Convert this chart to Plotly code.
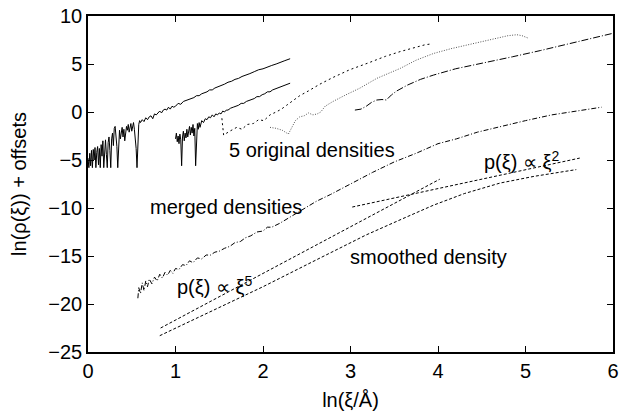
import plotly.graph_objects as go

# ---- data ----
c1x = [0.00,0.01,0.02,0.03,0.04,0.05,0.06,0.07,0.08,0.09,0.10,0.11,0.12,0.13,0.14,0.15,0.16,0.17,0.18,0.19,
       0.20,0.21,0.22,0.23,0.24,0.25,0.26,0.27,0.28,0.29,0.30,0.31,0.32,0.33,0.34,0.35,0.36,0.37,0.38,0.39,
       0.40,0.41,0.42,0.43,0.44,0.45,0.46,0.47,0.48,0.49,0.50,0.51,0.52,0.53,0.54,0.55,0.56,0.57,0.58,0.59,
       0.60,0.62,0.64,0.66,0.68,0.70,0.72,0.74,0.76,0.78,0.80,0.82,0.84,0.86,0.88,0.90,0.92,0.94,0.96,0.98,
       1.00,1.03,1.06,1.09,1.12,1.15,1.18,1.21,1.24,1.27,1.30,1.33,1.36,1.39,1.42,1.45,1.48,1.52,1.56,1.60,
       1.64,1.68,1.72,1.76,1.80,1.85,1.90,1.95,2.00,2.05,2.10,2.15,2.20,2.25,2.31]
c1y = [-4.8,-5.8,-4.3,-5.6,-4.0,-5.8,-3.9,-5.0,-3.7,-5.8,-4.2,-3.6,-5.5,-3.8,-5.8,-3.4,-4.6,-3.0,-5.8,-3.5,
       -2.9,-4.4,-5.8,-3.2,-2.6,-4.0,-5.8,-2.8,-2.2,-3.5,-1.7,-1.5,-2.3,-3.6,-5.8,-2.5,-1.9,-2.8,-2.0,-1.6,
       -2.6,-1.8,-3.0,-2.2,-1.5,-1.9,-1.3,-2.1,-1.6,-1.2,-2.0,-1.4,-1.1,-1.8,-2.6,-3.8,-5.8,-3.2,-1.3,-0.9,
       -1.1,-0.8,-1.0,-0.6,-0.8,-0.5,-0.4,-0.7,-0.2,-0.3,-0.1,0.1,-0.1,0.2,0.3,0.2,0.5,0.3,0.6,0.5,
       0.6,0.9,0.8,1.1,1.2,1.3,1.4,1.5,1.7,1.7,1.9,2.0,2.1,2.3,2.3,2.5,2.6,2.8,2.9,3.1,
       3.2,3.4,3.5,3.7,3.8,4.0,4.2,4.4,4.5,4.7,4.85,5.0,5.2,5.35,5.55]

c2x = [1.00,1.01,1.02,1.03,1.04,1.05,1.06,1.07,1.08,1.09,1.10,1.11,1.12,1.13,1.14,1.15,1.16,1.17,1.18,1.19,
       1.20,1.21,1.22,1.23,1.24,1.25,1.26,1.27,1.28,1.30,1.32,1.34,1.36,1.38,1.40,1.42,1.44,1.46,1.48,1.50,
       1.52,1.54,1.56,1.58,1.60,1.63,1.66,1.69,1.72,1.75,1.78,1.81,1.84,1.87,1.90,1.93,1.96,1.99,2.02,2.05,
       2.08,2.11,2.14,2.17,2.20,2.23,2.26,2.29,2.31]
c2y = [-2.8,-2.2,-3.1,-2.5,-3.3,-2.3,-2.9,-5.6,-2.6,-2.0,-3.0,-2.2,-2.7,-1.8,-2.6,-2.0,-1.5,-2.4,-1.6,-2.2,
       -1.3,-2.5,-1.7,-5.6,-1.9,-1.2,-1.8,-1.1,-1.6,-0.9,-1.1,-0.7,-0.8,-0.5,-0.6,-0.3,-0.5,-0.2,-0.3,-0.1,
       -0.2,0.1,0.0,0.2,0.2,0.4,0.5,0.6,0.7,0.9,0.9,1.1,1.2,1.3,1.4,1.6,1.6,1.8,1.9,2.1,
       2.1,2.3,2.4,2.5,2.6,2.7,2.8,2.9,3.0]

c3x = [1.53,1.55,1.62,1.70,1.76,1.82,1.89,1.95,2.01,2.08,2.15,2.21,2.27,2.35,2.42,2.52,2.65,2.80,2.99,3.20,
       3.40,3.57,3.75,3.85,3.93]
c3y = [-0.65,-2.4,-2.0,-1.6,-1.8,-1.3,-1.2,-0.8,-0.9,-0.3,0.0,0.3,0.7,1.2,1.7,2.2,2.9,3.6,4.4,5.1,
       5.8,6.3,6.8,7.0,7.1]

c4x = [2.08,2.15,2.22,2.29,2.33,2.37,2.42,2.47,2.52,2.57,2.62,2.66,2.71,2.80,2.95,3.11,3.30,3.57,3.75,3.95,
       4.15,4.40,4.60,4.80,4.90,4.96,5.03]
c4y = [-1.6,-1.7,-1.9,-2.3,-1.6,-0.9,-0.5,-0.4,-0.1,-0.3,-0.2,0.0,0.6,1.1,1.8,2.5,3.5,4.55,5.4,6.1,
       6.6,7.15,7.55,7.95,8.05,7.95,7.7]

c5x = [3.05,3.12,3.18,3.24,3.30,3.36,3.41,3.47,3.53,3.65,3.80,3.95,4.20,4.52,4.85,5.17,5.50,5.80,6.00]
c5y = [0.2,0.3,0.6,1.0,1.25,1.3,1.25,1.8,2.2,2.8,3.4,3.85,4.5,5.1,5.75,6.4,7.1,7.7,8.2]

mx = [0.57,0.58,0.60,0.62,0.64,0.66,0.68,0.70,0.73,0.76,0.79,0.82,0.85,0.88,0.91,0.94,0.97,1.00,1.04,1.08,
      1.12,1.16,1.20,1.25,1.30,1.35,1.40,1.45,1.50,1.56,1.62,1.68,1.74,1.80,1.86,1.93,2.00,2.05,2.10,2.19,
      2.30,2.45,2.61,2.77,3.00,3.25,3.50,3.75,4.00,4.21,4.45,4.71,5.00,5.30,5.60,5.87]
my = [-19.4,-18.3,-18.9,-17.8,-18.6,-17.6,-18.2,-17.4,-17.9,-17.2,-17.6,-16.9,-17.3,-16.7,-17.0,-16.5,-16.8,-16.3,-16.4,-15.9,
      -16.0,-15.5,-15.7,-15.2,-15.3,-14.9,-14.9,-14.6,-14.5,-14.2,-14.0,-13.6,-13.5,-13.1,-12.9,-12.5,-12.4,-12.0,-12.0,-11.6,
      -11.0,-10.2,-9.3,-8.6,-7.5,-6.3,-5.2,-4.3,-3.3,-2.8,-2.1,-1.5,-0.9,-0.3,0.1,0.5]

sx = [0.82,1.50,2.00,2.61,3.18,3.60,3.95,4.30,4.71,5.10,5.58]
sy = [-23.3,-20.4,-18.2,-15.4,-12.8,-11.1,-9.7,-8.5,-7.4,-6.7,-6.0]

p5x = [0.83,4.02]
p5y = [-22.5,-7.0]
p2x = [3.02,5.62]
p2y = [-9.9,-4.8]

FONT = "Liberation Sans, Arial, Helvetica, sans-serif"
FS = 20

fig = go.Figure()

def add(x, y, color="black", dash="solid", width=1):
    fig.add_trace(go.Scatter(x=x, y=y, mode="lines",
                             line=dict(color=color, width=width, dash=dash),
                             showlegend=False, hoverinfo="skip"))

add(c1x, c1y, width=1)
add(c2x, c2y, width=1)
add(c3x, c3y, dash="2px,3px")
add(c4x, c4y, color="#555555", dash="1px,1.5px")
add(c5x, c5y, dash="7px,2px,1px,2px")
add(mx, my, dash="5px,2px,1px,2px")
add(sx, sy, dash="3px,2px")
add(p5x, p5y, dash="3px,2px")
add(p2x, p2y, dash="3px,2px")

annots = [
    (2.56, -3.96, "5 original densities"),
    (1.58, -9.9, "merged densities"),
    (3.89, -15.1, "smoothed density"),
    (1.45, -18.1, "p(ξ) ∝ ξ<sup>5</sup>"),
    (4.95, -5.0, "p(ξ) ∝ ξ<sup>2</sup>"),
]
for ax_, ay_, t in annots:
    fig.add_annotation(x=ax_, y=ay_, text=t, showarrow=False,
                       xanchor="center", yanchor="middle",
                       font=dict(family=FONT, size=FS, color="black"))

axis_common = dict(showline=True, linecolor="black", linewidth=1.5, mirror="ticks",
                   ticks="inside", ticklen=6, tickwidth=1, tickcolor="black",
                   showgrid=False, zeroline=False, automargin=False,
                   tickfont=dict(family=FONT, size=FS, color="black"))

fig.update_layout(
    width=620, height=411,
    margin=dict(l=88, r=7, t=16, b=59),
    paper_bgcolor="white", plot_bgcolor="white",
    font=dict(family=FONT, size=FS, color="black"),
    xaxis=dict(range=[0, 6], dtick=1, tick0=0,
               title=dict(text="ln(ξ/Å)", font=dict(family=FONT, size=FS), standoff=14),
               **axis_common),
    yaxis=dict(range=[-25, 10], dtick=5, tick0=0,
               title=dict(text="ln(ρ(ξ)) + offsets", font=dict(family=FONT, size=FS), standoff=16),
               **axis_common),
)

fig.write_html("out.html")
